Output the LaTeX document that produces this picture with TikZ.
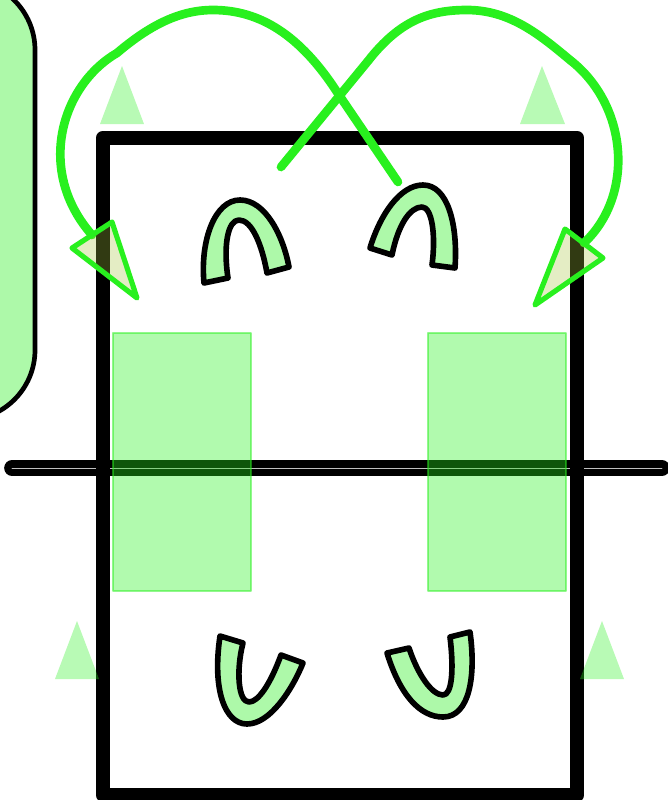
\documentclass[tikz,border=0pt]{standalone}
\usepackage{tikz}
\usetikzlibrary{positioning}
\definecolor{leafgreen}{RGB}{40,240,30}
\definecolor{olivetint}{RGB}{165,195,60}

\begin{document}
\begin{tikzpicture}[x=0.03cm, y=-0.03cm, line join=round,
        every node/.style={draw, rectangle, inner sep=0pt, outer sep=0pt, anchor=north west},
        casing/.style={line width=12.5pt, minimum width=14.22cm, minimum height=19.71cm},
        plate/.style={draw=leafgreen, draw opacity=0.5, line width=1.5pt, fill=leafgreen, fill opacity=0.36, minimum width=4.15cm, minimum height=7.74cm},
        shoe/.style={draw=black, line width=4.8pt, fill=leafgreen, fill opacity=0.38},
        cone/.style={fill=leafgreen, fill opacity=0.33},
        swing/.style={draw=leafgreen, line width=7.4pt, line cap=round},
        head/.style={draw=leafgreen, line width=4.4pt, fill=olivetint, fill opacity=0.3}]
        \clip (0,0) rectangle (668,800);

        % side panel and axle
        \draw[shoe, line width=4pt, rounded corners=2.1cm] (-100,-20) rectangle (35,420);
        \draw[line width=6.3pt, double=gray!50, double distance=0.8pt, line cap=round] (12,468) -- (662,468);

        \node (casing) [casing] at (103,138) {};
        \node (plateL) [plate] at (113,333) {};
        \node (plateR) [plate] at (428,333) {};

        % small cones
        \fill[cone] (100,124) -- (122,66) -- (144,124) -- cycle;
        \fill[cone] (520,124) -- (542,66) -- (565,124) -- cycle;
        \fill[cone] (55,679) -- (77,621) -- (99,679) -- cycle;
        \fill[cone] (580,679) -- (602,621) -- (624,679) -- cycle;

        % shoes
        \draw[shoe] (204,283) .. controls (200,240) and (215,200) .. (240,200) .. controls (265,200) and (283,235) .. (289,267) -- (267,273) .. controls (262,245) and (252,220) .. (239,220) .. controls (228,220) and (223,245) .. (228,278) -- cycle;
        \draw[shoe] (370,248) .. controls (380,215) and (400,185) .. (423,185) .. controls (448,185) and (458,225) .. (455,268) -- (432,265) .. controls (436,235) and (432,207) .. (422,207) .. controls (410,207) and (398,225) .. (392,255) -- cycle;
        \draw[shoe] (220,636) .. controls (212,690) and (225,724) .. (247,724) .. controls (270,724) and (292,690) .. (303,663) -- (281,655) .. controls (270,685) and (258,702) .. (249,702) .. controls (238,702) and (236,670) .. (243,643) -- cycle;
        \draw[shoe] (387,653) .. controls (400,695) and (420,717) .. (443,717) .. controls (470,717) and (476,675) .. (470,632) -- (450,637) .. controls (454,670) and (452,695) .. (443,695) .. controls (432,695) and (418,675) .. (409,648) -- cycle;

        % swings
        \coordinate (startA) at (281,167);
        \coordinate (endA) at (584,243);
        \coordinate (startB) at (398,182);
        \coordinate (endB) at (92,235);
        \draw[swing] (startA) -- (368,61) .. controls (400,20) and (430,10) .. (467,10) .. controls (510,10) and (540,35) .. (570,60) .. controls (628,105) and (635,195) .. (endA);
        \draw[head] (565,229) -- (603,258) -- (535,305) -- cycle;
        \draw[swing] (startB) -- (337,92) .. controls (300,35) and (260,10) .. (213,10) .. controls (180,10) and (150,25) .. (117,53) .. controls (62,85) and (35,170) .. (endB);
        \draw[head] (72,248) -- (112,222) -- (137,298) -- cycle;
    \end{tikzpicture}
\end{document}
